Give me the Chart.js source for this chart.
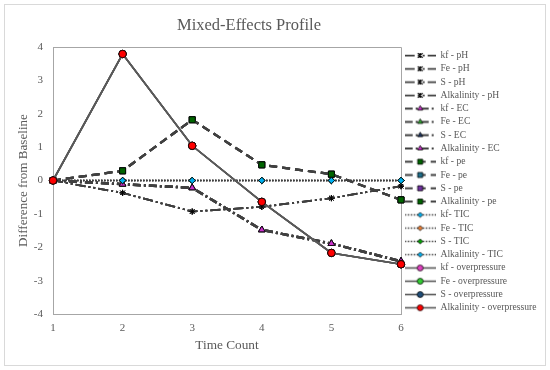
<!DOCTYPE html>
<html>
<head>
<meta charset="utf-8">
<title>Mixed-Effects Profile</title>
<script src="https://cdn.jsdelivr.net/npm/chart.js@4.4.1/dist/chart.umd.min.js"></script>
<style>
  html, body { margin: 0; padding: 0; background: #fff; }
  #wrap { width: 550px; height: 370px; }
</style>
</head>
<body>
<div id="wrap"><canvas id="chart" width="550" height="370"></canvas></div>
<script>
  "use strict";

  // data
  const timeCounts = ['1', '2', '3', '4', '5', '6'];
  const parameters = ['kf', 'Fe', 'S', 'Alkalinity'];
  const phValues = [0, -0.37, -0.93, -0.79, -0.53, -0.17];
  const ecValues = [0, -0.11, -0.22, -1.48, -1.89, -2.42];
  const peValues = [0, 0.29, 1.82, 0.47, 0.19, -0.58];
  const ticValues = [0, 0, 0, 0, 0, 0];
  const overpressureValues = [0, 3.79, 1.04, -0.64, -2.17, -2.51];

  const textColor = '#595959';
  const axisColor = '#a6a6a6';
  const serif = "'Liberation Serif', 'DejaVu Serif', serif";
  const legendWidth = 145;

  // one entry per measured property; four parameters each
  const groups = [
    { name: 'pH', values: phValues, marker: 'star', radius: 3, dash: [10, 3, 2, 3, 2, 3], width: 1.75,
      line: '#404040', colors: ['#000000', '#000000', '#000000', '#000000'] },
    { name: 'EC', values: ecValues, marker: 'triangle', radius: 3.8, dash: [8, 3, 2, 3], width: 2.5,
      line: '#404040', colors: ['#cc33cc', '#33aa33', '#1f3864', '#cc33cc'] },
    { name: 'pe', values: peValues, marker: 'rect', radius: 4.2, dash: [8, 5], width: 2.25,
      line: '#404040', colors: ['#006400', '#1f6f8b', '#7030a0', '#006400'] },
    { name: 'TIC', values: ticValues, marker: 'rectRot', radius: 3.2, dash: [1.5, 1.5], width: 1.5,
      line: '#404040', colors: ['#00b0f0', '#ed7d31', '#00a000', '#00b0f0'] },
    { name: 'overpressure', values: overpressureValues, marker: 'circle', radius: 3.7, dash: [], width: 1.6,
      line: '#595959', colors: ['#e040c0', '#33cc33', '#1f4e79', '#ff0000'] }
  ];

  const datasets = [];
  groups.forEach(function (g) {
    parameters.forEach(function (p, i) {
      const label = (g.name === 'TIC' && p === 'kf') ? 'kf- TIC' : p + ' - ' + g.name;
      datasets.push({
        label: label,
        data: g.values,
        borderColor: g.line,
        borderWidth: g.width,
        borderDash: g.dash,
        pointStyle: g.marker,
        pointRadius: g.radius,
        pointHoverRadius: g.radius,
        pointBackgroundColor: g.colors[i],
        pointBorderColor: '#000000',
        pointBorderWidth: 0.75,
        tension: 0,
        fill: false,
        clip: false
      });
    });
  });
  // first dataset ends up drawn last, so reverse the order to keep the last ones on top
  datasets.forEach(function (ds, i) { ds.order = datasets.length - i; });

  function drawMarker(ctx, style, x, y, r) {
    ctx.beginPath();
    if (style === 'circle') {
      ctx.arc(x, y, r, 0, Math.PI * 2);
    } else if (style === 'rect') {
      ctx.rect(x - r * 0.75, y - r * 0.75, r * 1.5, r * 1.5);
    } else if (style === 'rectRot') {
      ctx.moveTo(x, y - r); ctx.lineTo(x + r, y); ctx.lineTo(x, y + r); ctx.lineTo(x - r, y); ctx.closePath();
    } else if (style === 'triangle') {
      ctx.moveTo(x, y - r); ctx.lineTo(x + r * 0.87, y + r * 0.5); ctx.lineTo(x - r * 0.87, y + r * 0.5); ctx.closePath();
    } else if (style === 'star') {
      ctx.moveTo(x - r, y - r); ctx.lineTo(x + r, y + r);
      ctx.moveTo(x + r, y - r); ctx.lineTo(x - r, y + r);
      ctx.moveTo(x, y - r); ctx.lineTo(x, y + r);
      ctx.lineWidth = 1.2;
      ctx.stroke();
      return;
    }
    ctx.fill();
    ctx.stroke();
  }

  // small line + marker picture used as the legend symbol
  function makeGlyph(ds) {
    const c = document.createElement('canvas');
    c.width = 31;
    c.height = 11;
    const g = c.getContext('2d');
    g.strokeStyle = ds.borderColor;
    g.lineWidth = Math.min(ds.borderWidth, 2);
    g.setLineDash(ds.borderDash);
    g.beginPath();
    g.moveTo(0, 5.5);
    g.lineTo(31, 5.5);
    g.stroke();
    g.setLineDash([]);
    g.fillStyle = ds.pointBackgroundColor;
    g.strokeStyle = '#000000';
    g.lineWidth = 0.75;
    drawMarker(g, ds.pointStyle, 15.5, 5.5, ds.pointRadius * 0.8);
    return c;
  }

  const frame = {
    id: 'frame',
    beforeLayout(chart) {
      // the layout caps a side legend at a quarter of the width; give it the room it had
      const lg = chart.legend;
      if (lg && !lg._wide) {
        const fit = lg.fit;
        lg.fit = function () { fit.call(this); this.width = legendWidth; };
        lg._wide = true;
      }
    },
    beforeDatasetsDraw(chart) {
      const { ctx, chartArea: a } = chart;
      ctx.save();
      ctx.strokeStyle = axisColor;
      ctx.lineWidth = 1;
      ctx.beginPath();
      ctx.moveTo(a.left, a.top + 0.5);
      ctx.lineTo(a.right + 0.5, a.top + 0.5);
      ctx.lineTo(a.right + 0.5, a.bottom);
      ctx.stroke();
      ctx.restore();
    },
    afterDraw(chart) {
      const ctx = chart.ctx;
      ctx.save();
      ctx.strokeStyle = '#d9d9d9';
      ctx.lineWidth = 1;
      ctx.strokeRect(4.5, 4.5, 541, 361);
      ctx.fillStyle = textColor;
      ctx.font = '16.5px ' + serif;
      ctx.textAlign = 'center';
      ctx.textBaseline = 'middle';
      ctx.fillText('Mixed-Effects Profile', 249, 26);
      ctx.restore();
    }
  };

  const ctx = document.getElementById('chart').getContext('2d');
  new Chart(ctx, {
    type: 'line',
    data: { labels: timeCounts, datasets: datasets },
    plugins: [frame],
    options: {
      responsive: false,
      devicePixelRatio: 1,
      animation: false,
      events: [],
      layout: { padding: { left: 5, top: 47, right: 4, bottom: 10 } },
      plugins: {
        title: { display: false },
        tooltip: { enabled: false },
        legend: {
          position: 'right',
          align: 'start',
          labels: {
            color: textColor,
            font: { family: serif, size: 9.6 },
            usePointStyle: true,
            pointStyleWidth: 31,
            boxHeight: 10,
            padding: 3.68,
            sort: function (a, b) { return a.datasetIndex - b.datasetIndex; },
            generateLabels: function (chart) {
              const items = Chart.defaults.plugins.legend.labels.generateLabels(chart);
              items.forEach(function (it) {
                it.pointStyle = makeGlyph(chart.data.datasets[it.datasetIndex]);
              });
              return items;
            }
          }
        }
      },
      scales: {
        x: {
          offset: false,
          grid: { display: false, drawTicks: false },
          border: { display: true, color: axisColor, width: 1 },
          ticks: { color: textColor, font: { family: serif, size: 11 }, padding: 8, maxRotation: 0 },
          title: { display: true, text: 'Time Count', color: textColor,
                   font: { family: serif, size: 13.3 }, padding: { top: 0, bottom: 7 } },
          afterFit: function (s) { s.height = 46; }
        },
        y: {
          min: -4,
          max: 4,
          grid: { display: false, drawTicks: false },
          border: { display: true, color: axisColor, width: 1 },
          ticks: { stepSize: 1, color: textColor, font: { family: serif, size: 11 }, padding: 10 },
          title: { display: true, text: 'Difference from Baseline', color: textColor,
                   font: { family: serif, size: 13.1 }, padding: { top: 11, bottom: 0 } },
          afterFit: function (s) { s.width = 48; }
        }
      }
    }
  });
</script>
</body>
</html>
